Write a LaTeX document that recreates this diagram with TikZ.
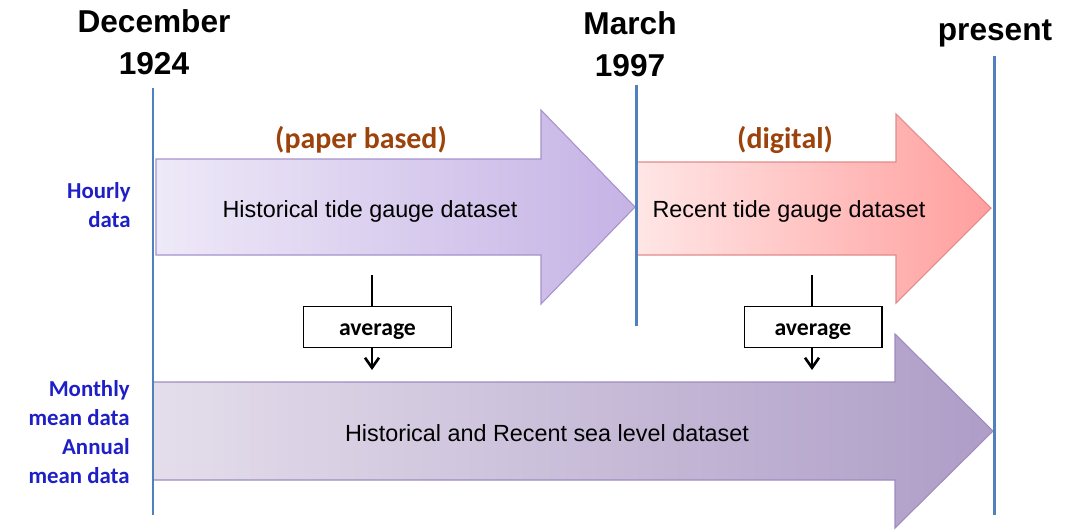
\documentclass[tikz,border=0pt]{standalone}
\usepackage{fontspec}
\setmainfont{Liberation Sans}
\newfontfamily\carlito{Carlito}
\usetikzlibrary{positioning,arrows.meta}
\definecolor{lineblue}{HTML}{4F81BD}
\definecolor{rowblue}{HTML}{1F1FC8}
\definecolor{notebrown}{HTML}{9C420B}
\definecolor{lilacL}{HTML}{EEE9F8}
\definecolor{lilacR}{HTML}{C5B3E5}
\definecolor{lilacD}{HTML}{A592CC}
\definecolor{roseL}{HTML}{FFE6E6}
\definecolor{roseR}{HTML}{FF9F9D}
\definecolor{roseD}{HTML}{E38A8A}
\definecolor{mauveL}{HTML}{E4DEEB}
\definecolor{mauveR}{HTML}{AE9DC7}
\definecolor{mauveD}{HTML}{A08ABF}
\tikzset{
  timeline/.style={draw=lineblue,line width=1.7pt},
  datelab/.style={font=\bfseries\fontsize{18}{24}\selectfont,align=center,inner sep=0},
  rowlab/.style={font=\carlito\bfseries\fontsize{13}{16.4}\selectfont,text=rowblue,align=right,anchor=east,inner sep=0},
  note/.style={font=\carlito\bfseries\fontsize{17}{20}\selectfont,text=notebrown,inner sep=0},
  setlab/.style={font=\fontsize{13.3}{16}\selectfont,inner sep=0,anchor=base},
  % the shaded block arrows, shading runs left to right
  histarrow/.style={draw=lilacD,line width=0.6pt,left color=lilacL,right color=lilacR},
  recentarrow/.style={draw=roseD,line width=0.6pt,left color=roseL,right color=roseR},
  joinarrow/.style={draw=mauveD,line width=0.6pt,left color=mauveL,right color=mauveR},
  avgbox/.style={draw,line width=0.6pt,minimum height=0.81cm,inner sep=0,text height=12pt,text depth=2pt,
                 font=\carlito\bfseries\fontsize{13.5}{16}\selectfont},
  feed/.style={line width=1.5pt},
  feeddown/.style={feed,-{Straight Barb[length=2mm,width=2.8mm,line width=1.5pt]}},
}
\begin{document}
\begin{tikzpicture}[x=0.02cm,y=-0.02cm]
  \useasboundingbox (0,0) rectangle (1084,529);
  % hourly data: paper based record up to March 1997, digital after it
  \path[histarrow] (156,159) -- (541,159) -- (541,110) -- (635,207) -- (541,304) -- (541,255) -- (156,255) -- cycle;
  \path[recentarrow] (637,162) -- (896,162) -- (896,114) -- (991,208) -- (896,303) -- (896,255) -- (637,255) -- cycle;
  \path[joinarrow] (153,382) -- (895,382) -- (895,334) -- (993,431) -- (895,528) -- (895,480) -- (153,480) -- cycle;
  \node[setlab] (hist) at (370,217) {Historical tide gauge dataset};
  \node[setlab] (recent) at (789,217) {Recent tide gauge dataset};
  \node[setlab] (joined) at (547,441) {Historical and Recent sea level dataset};
  \node[note] (paper) at (361,140) {(paper based)};
  \node[note] (digital) at (785,140) {(digital)};
  % time axis
  \node[datelab,anchor=north] (dec) at (154,9.5) {December\\1924};
  \node[datelab,anchor=north] (mar) at (630,11.5) {March\\1997};
  \node[datelab,anchor=base] (now) at (995,40) {present};
  \coordinate (dectop) at (153,88);  \coordinate (decbot) at (153,515);
  \coordinate (martop) at (636,85);  \coordinate (marbot) at (636,326);
  \coordinate (nowtop) at (994,56);  \coordinate (nowbot) at (994,515);
  \draw[timeline] (dectop) -- (decbot);
  \draw[timeline] (martop) -- (marbot);
  \draw[timeline] (nowtop) -- (nowbot);
  % row labels
  \node[rowlab] (hourly) at (131,205) {Hourly\\data};
  \node[rowlab] (mean) at (130,432) {Monthly\\mean data\\Annual\\mean data};
  % averaging steps
  \node[avgbox,minimum width=2.96cm] (avg1) at (377.5,327) {average};
  \node[avgbox,minimum width=2.76cm] (avg2) at (813,327) {average};
  \coordinate (in1) at (372,275);  \coordinate (out1) at (372,370);
  \coordinate (in2) at (812,275);  \coordinate (out2) at (812,370);
  \draw[feed] (in1) -- (in1 |- avg1.north);
  \draw[feeddown] (avg1.south -| out1) -- (out1);
  \draw[feed] (in2) -- (in2 |- avg2.north);
  \draw[feeddown] (avg2.south -| out2) -- (out2);
\end{tikzpicture}
\end{document}
